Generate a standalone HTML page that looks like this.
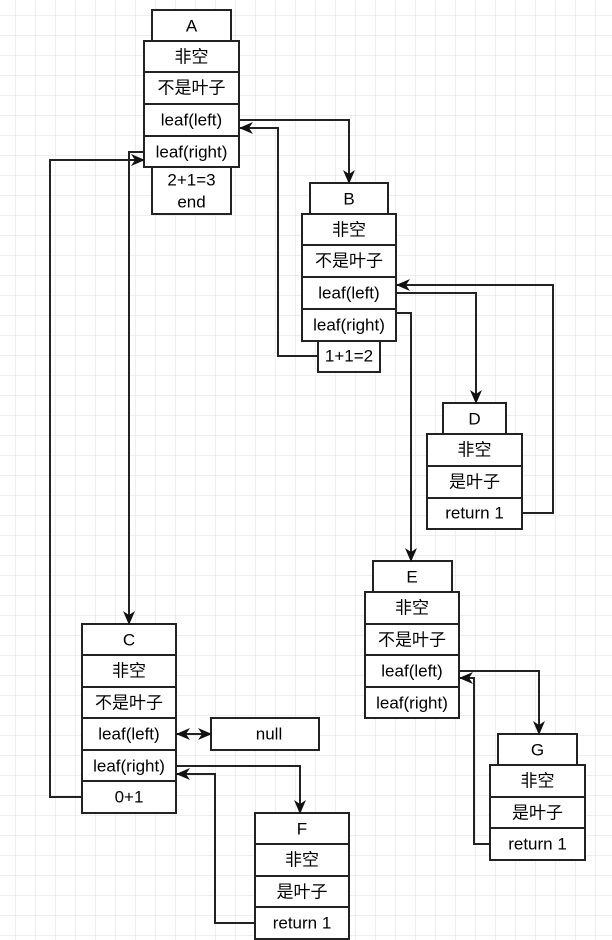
<!DOCTYPE html>
<html><head><meta charset="utf-8"><style>
html,body{margin:0;padding:0;background:#fff}
svg{display:block}
text{font-family:"Liberation Sans","Noto Sans CJK SC",sans-serif;font-size:17px;fill:#000;text-anchor:middle;dominant-baseline:central}
</style></head><body>
<svg width="612" height="940" viewBox="0 0 612 940" xmlns="http://www.w3.org/2000/svg">
<defs>
<pattern id="g" width="20" height="20" patternUnits="userSpaceOnUse" x="-4" y="-4">
<path d="M20 0V20M0 20H20" fill="none" stroke="#dedede" stroke-width="1"/>
</pattern>
<marker id="ar" markerWidth="14" markerHeight="14" refX="13" refY="7" orient="auto" markerUnits="userSpaceOnUse">
<path d="M0,1 L14,7 L0,13 L4,7 Z" fill="#111"/>
</marker>
<marker id="as" markerWidth="14" markerHeight="14" refX="1" refY="7" orient="auto" markerUnits="userSpaceOnUse">
<path d="M14,1 L0,7 L14,13 L10,7 Z" fill="#111"/>
</marker>
</defs>
<rect width="612" height="940" fill="url(#g)"/>
<g fill="#fff" stroke="#222" stroke-width="2">
<rect x="152" y="10" width="79" height="31"/>
<rect x="144" y="41" width="95" height="31"/><rect x="144" y="72" width="95" height="32"/><rect x="144" y="104" width="95" height="32"/><rect x="144" y="136" width="95" height="31"/>
<rect x="152" y="167" width="79" height="47"/>
<rect x="310" y="183" width="78" height="31"/>
<rect x="302" y="214" width="94" height="31"/><rect x="302" y="245" width="94" height="32"/><rect x="302" y="277" width="94" height="32"/><rect x="302" y="309" width="94" height="32"/>
<rect x="318" y="341" width="62" height="31"/>
<rect x="443" y="403" width="63" height="31"/>
<rect x="427" y="434" width="95" height="32"/><rect x="427" y="466" width="95" height="32"/><rect x="427" y="498" width="95" height="31"/>
<rect x="373" y="561" width="79" height="31"/>
<rect x="365" y="592" width="94" height="32"/><rect x="365" y="624" width="94" height="31"/><rect x="365" y="655" width="94" height="32"/><rect x="365" y="687" width="94" height="31"/>
<rect x="498" y="734" width="79" height="31"/>
<rect x="490" y="765" width="95" height="32"/><rect x="490" y="797" width="95" height="31"/><rect x="490" y="828" width="95" height="32"/>
<rect x="82" y="624" width="94" height="31"/><rect x="82" y="655" width="94" height="32"/><rect x="82" y="687" width="94" height="31"/><rect x="82" y="718" width="94" height="32"/><rect x="82" y="750" width="94" height="31"/><rect x="82" y="781" width="94" height="32"/>
<rect x="211" y="718" width="108" height="32"/>
<rect x="255" y="813" width="94" height="31"/><rect x="255" y="844" width="94" height="32"/><rect x="255" y="876" width="94" height="31"/><rect x="255" y="907" width="94" height="32"/>
</g>
<g fill="none" stroke="#222" stroke-width="2">
<path d="M239 120H349V183" marker-end="url(#ar)"/>
<path d="M318 356H278V128H240" marker-end="url(#ar)"/>
<path d="M82 797H50V160H144" marker-end="url(#ar)"/>
<path d="M144 152H129V624" marker-end="url(#ar)"/>
<path d="M396 293H476V403" marker-end="url(#ar)"/>
<path d="M522 513H553V285H397" marker-end="url(#ar)"/>
<path d="M396 313H411V561" marker-end="url(#ar)"/>
<path d="M459 671H539V734" marker-end="url(#ar)"/>
<path d="M490 844H474V678H460" marker-end="url(#ar)"/>
<path d="M177 734H211" marker-start="url(#as)" marker-end="url(#ar)"/>
<path d="M176 766H300V813" marker-end="url(#ar)"/>
<path d="M255 923H215V774H177" marker-end="url(#ar)"/>
</g>
<g>
<text x="191.5" y="26">A</text><text x="191.5" y="57">非空</text><text x="191.5" y="88">不是叶子</text><text x="191.5" y="120">leaf(left)</text><text x="191.5" y="152">leaf(right)</text>
<text x="191.5" y="180">2+1=3</text><text x="191.5" y="202">end</text>
<text x="349" y="199">B</text><text x="349" y="230">非空</text><text x="349" y="261">不是叶子</text><text x="349" y="293">leaf(left)</text><text x="349" y="325">leaf(right)</text><text x="349" y="356">1+1=2</text>
<text x="474.5" y="419">D</text><text x="474.5" y="450">非空</text><text x="474.5" y="482">是叶子</text><text x="474.5" y="513">return 1</text>
<text x="412" y="577">E</text><text x="412" y="608">非空</text><text x="412" y="640">不是叶子</text><text x="412" y="671">leaf(left)</text><text x="412" y="703">leaf(right)</text>
<text x="537.5" y="750">G</text><text x="537.5" y="781">非空</text><text x="537.5" y="813">是叶子</text><text x="537.5" y="844">return 1</text>
<text x="129" y="640">C</text><text x="129" y="671">非空</text><text x="129" y="703">不是叶子</text><text x="129" y="734">leaf(left)</text><text x="129" y="766">leaf(right)</text><text x="129" y="797">0+1</text>
<text x="269" y="734">null</text>
<text x="302" y="829">F</text><text x="302" y="860">非空</text><text x="302" y="892">是叶子</text><text x="302" y="923">return 1</text>
</g>
</svg>
</body></html>
